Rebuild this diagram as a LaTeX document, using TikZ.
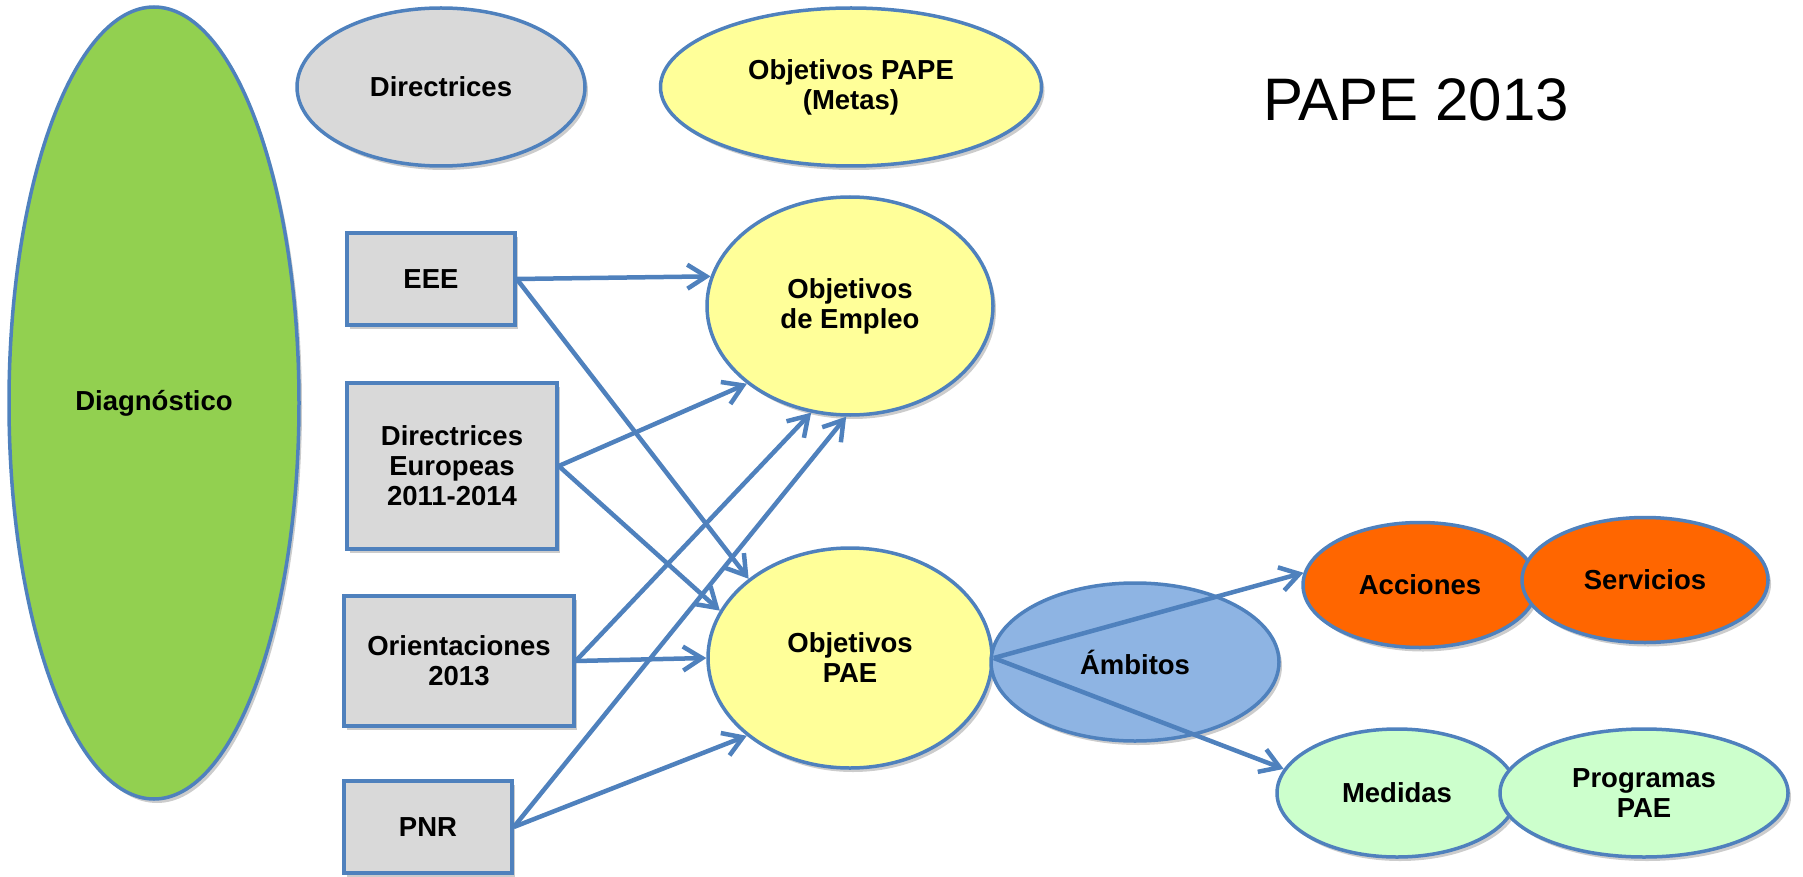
\documentclass[tikz,border=0pt]{standalone}
\usepackage{fontspec}
\setmainfont{Liberation Sans}
\usepackage{xcolor}
\usepackage{tikz}
\usetikzlibrary{shapes.geometric, arrows.meta, shadows}
\definecolor{borde}{HTML}{4F81BD}
\definecolor{gris}{HTML}{D9D9D9}
\definecolor{amarillo}{HTML}{FFFF99}
\definecolor{verde}{HTML}{92D050}
\definecolor{naranja}{HTML}{FF6600}
\definecolor{azul}{HTML}{8EB4E3}
\definecolor{verdeclaro}{HTML}{CCFFCC}

\begin{document}
\begin{tikzpicture}[x=1pt, y=-1pt, line width=3.5pt,
        >={Straight Barb[length=19pt, width=24pt]},
        sombra/.style={drop shadow={shadow xshift=3pt, shadow yshift=-4pt, fill=black, opacity=0.2}},
        oval/.style={ellipse, draw=borde, inner sep=0pt, align=center, sombra,
                     font=\fontsize{27.5}{30}\selectfont\bfseries},
        caja/.style={rectangle, draw=borde, fill=gris, inner sep=0pt, align=center, sombra,
                     font=\fontsize{27.5}{30}\selectfont\bfseries},
        flecha/.style={->, draw=borde, line width=4.5pt}]
    \useasboundingbox (0,0) rectangle (1803,877);

    % fila de arriba
    \node[oval, fill=verde, minimum width=290, minimum height=792] (diag) at (154, 403) {Diagnóstico};
    \node[oval, fill=gris, minimum width=288, minimum height=158] (direc) at (441, 87) {Directrices};
    \node[oval, fill=amarillo, minimum width=381, minimum height=158] (metas) at (851, 87) {Objetivos PAPE\\(Metas)};
    \node[font=\fontsize{60}{64}\selectfont] (titulo) at (1416, 100) {PAPE 2013};

    % fuentes
    \node[caja, minimum width=168, minimum height=92] (eee) at (431, 279) {EEE};
    \node[caja, minimum width=210, minimum height=166] (direur) at (452, 466) {Directrices\\Europeas\\2011-2014};
    \node[caja, minimum width=230, minimum height=130] (orient) at (459, 661) {Orientaciones\\2013};
    \node[caja, minimum width=168, minimum height=92] (pnr) at (428, 827) {PNR};

    % objetivos
    \node[oval, fill=amarillo, minimum width=286, minimum height=218] (empleo) at (850, 306) {Objetivos\\de Empleo};
    \node[oval, fill=amarillo, minimum width=284, minimum height=220] (pae) at (850, 658) {Objetivos\\PAE};
    \node[oval, fill=azul, minimum width=288, minimum height=158] (ambitos) at (1135, 662) {Ámbitos};

    \node[oval, fill=naranja, minimum width=234, minimum height=125] (acciones) at (1420, 585) {Acciones};
    \node[oval, fill=naranja, minimum width=246, minimum height=125] (servicios) at (1645, 580) {Servicios};
    \node[oval, fill=verdeclaro, minimum width=240, minimum height=128] (medidas) at (1397, 793) {Medidas};
    \node[oval, fill=verdeclaro, minimum width=288, minimum height=128] (programas) at (1644, 793) {Programas\\PAE};

    \draw[flecha] (eee.east) -- (empleo.168);
    \draw[flecha] (eee.east) -- (pae.142);
    \draw[flecha] (direur.east) -- (empleo.217);
    \draw[flecha] (direur.east) -- (pae.160);
    \draw[flecha] (orient.east) -- (empleo.250);
    \draw[flecha] (orient.east) -- (pae.180);
    \draw[flecha] (pnr.east) -- (empleo.268);
    \draw[flecha] (pnr.east) -- (pae.217);

    \draw[flecha] (pae.east) -- (acciones.174);
    \draw[flecha] (pae.east) -- (medidas.168);
\end{tikzpicture}
\end{document}
